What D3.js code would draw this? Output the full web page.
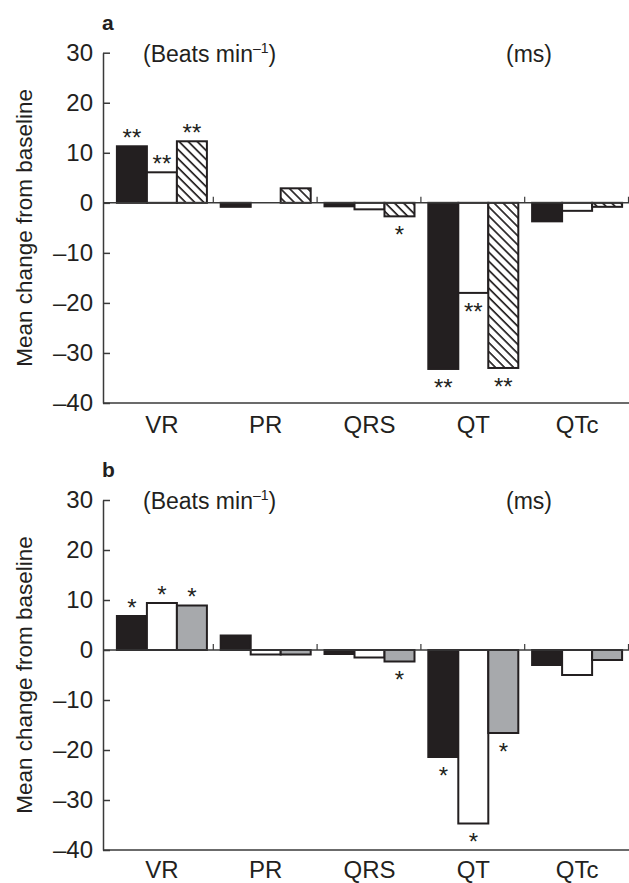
<!DOCTYPE html>
<html>
<head>
<meta charset="utf-8">
<script src="https://cdn.jsdelivr.net/npm/d3@7"></script>
<style>
  body { margin: 0; background: #fff; }
  svg { display: block; font-family: "Liberation Sans", Arial, Helvetica, sans-serif; }
</style>
</head>
<body>
<div id="chart"></div>
<script>
const categories = ['VR', 'PR', 'QRS', 'QT', 'QTc'];
const yTicks = [30, 20, 10, 0, -10, -20, -30, -40];

// panel a
const aBlack = [11.3, -0.8, -0.7, -33.2, -3.7];
const aWhite = [6.1, 0, -1.3, -18.0, -1.6];
const aHatched = [12.3, 2.9, -2.7, -33.0, -0.8];
const aBlackStars = ['**', '', '', '**', ''];
const aWhiteStars = ['**', '', '', '**', ''];
const aHatchedStars = ['**', '', '*', '**', ''];

// panel b
const bBlack = [6.8, 2.9, -0.8, -21.4, -3.0];
const bWhite = [9.4, -0.9, -1.5, -34.7, -5.0];
const bGray = [8.9, -0.9, -2.3, -16.6, -2.0];
const bBlackStars = ['*', '', '', '*', ''];
const bWhiteStars = ['*', '', '', '*', ''];
const bGrayStars = ['*', '', '*', '*', ''];

const W = 629, H = 883;
const ink = '#231f20';
const axisColor = '#3a3a3a';

const svg = d3.select('#chart').append('svg')
  .attr('width', W)
  .attr('height', H);

// hatch pattern
svg.append('defs').append('pattern')
  .attr('id', 'hatch')
  .attr('patternUnits', 'userSpaceOnUse')
  .attr('width', 6.4)
  .attr('height', 6.4)
  .attr('patternTransform', 'rotate(-45)')
  .call(p => {
    p.append('rect').attr('width', 6.4).attr('height', 6.4).attr('fill', '#fff');
    p.append('line')
      .attr('x1', 1).attr('x2', 1).attr('y1', 0).attr('y2', 6.4)
      .attr('stroke', ink).attr('stroke-width', 1.7);
  });

const x0 = d3.scaleBand().domain(categories).range([110, 629]);
const x1 = d3.scaleBand().domain([0, 1, 2]).range([-45, 45]);
const axisX = 103;

const fmt = d => d < 0 ? '\u2013' + Math.abs(d) : String(d);

function drawPanel(cfg) {
  const y = d3.scaleLinear().domain([-40, 30]).range([cfg.bottom, cfg.top]);
  const g = svg.append('g');

  // bars
  cfg.series.forEach((s, si) => {
    const rows = categories.map((c, i) => ({ c, v: s.values[i], star: s.stars[i] }));
    g.selectAll(null)
      .data(rows.filter(d => d.v !== 0))
      .enter().append('rect')
      .attr('x', d => x0(d.c) + x0.bandwidth() / 2 + x1(si))
      .attr('width', x1.bandwidth())
      .attr('y', d => y(Math.max(0, d.v)))
      .attr('height', d => Math.abs(y(d.v) - y(0)))
      .attr('fill', s.fill)
      .attr('stroke', ink)
      .attr('stroke-width', 2);

    // significance marks, glyph centred ~14px beyond the bar end
    g.selectAll(null)
      .data(rows.filter(d => d.star))
      .enter().append('text')
      .attr('x', d => x0(d.c) + x0.bandwidth() / 2 + x1(si) + x1.bandwidth() / 2)
      .attr('y', d => (d.v >= 0 ? y(d.v) - 14 : y(d.v) + 13) + 13.7)
      .attr('text-anchor', 'middle')
      .attr('font-size', 24)
      .attr('fill', ink)
      .text(d => d.star);
  });

  // zero line with category separators
  g.append('line')
    .attr('x1', axisX).attr('x2', W)
    .attr('y1', y(0)).attr('y2', y(0))
    .attr('stroke', axisColor).attr('stroke-width', 1.5);
  g.selectAll(null)
    .data(categories)
    .enter().append('line')
    .attr('x1', d => x0(d) + x0.bandwidth() - 0.5)
    .attr('x2', d => x0(d) + x0.bandwidth() - 0.5)
    .attr('y1', y(0)).attr('y2', y(0) - 6)
    .attr('stroke', axisColor).attr('stroke-width', 1.2);

  // y axis
  const ya = g.append('g')
    .attr('transform', `translate(${axisX},0)`)
    .call(d3.axisLeft(y).tickValues(yTicks).tickFormat(fmt)
      .tickSizeInner(-7).tickSizeOuter(0).tickPadding(10));
  ya.select('.domain').attr('stroke', axisColor).attr('stroke-width', 1.5);
  ya.selectAll('.tick line').attr('stroke', axisColor).attr('stroke-width', 1.5);
  ya.selectAll('.tick text')
    .attr('font-size', 24)
    .attr('font-family', '"Liberation Sans", Arial, sans-serif')
    .attr('fill', ink);

  // x axis
  g.append('line')
    .attr('x1', axisX).attr('x2', W)
    .attr('y1', y(-40)).attr('y2', y(-40))
    .attr('stroke', axisColor).attr('stroke-width', 1.5);
  const xa = g.append('g')
    .attr('transform', `translate(0,${y(-40)})`)
    .call(d3.axisBottom(x0).tickSize(0).tickPadding(cfg.labelPad));
  xa.select('.domain').remove();
  xa.selectAll('.tick text')
    .attr('font-size', 24)
    .attr('font-family', '"Liberation Sans", Arial, sans-serif')
    .attr('fill', ink);

  // y label
  g.append('text')
    .attr('transform', `translate(32,${(cfg.top + cfg.bottom) / 2}) rotate(-90)`)
    .attr('text-anchor', 'middle')
    .attr('font-size', 22.5)
    .attr('fill', ink)
    .text('Mean change from baseline');

  // panel letter
  g.append('text')
    .attr('x', 102).attr('y', cfg.top - 23)
    .attr('font-size', 21).attr('font-weight', 'bold')
    .attr('fill', ink)
    .text(cfg.letter);

  // unit labels
  const u = g.append('text')
    .attr('x', 143).attr('y', cfg.top + 9)
    .attr('font-size', 23).attr('fill', ink);
  u.append('tspan').text('(Beats min');
  u.append('tspan').attr('font-size', 14).attr('dy', -9).text('\u20131');
  u.append('tspan').attr('dy', 9).text(')');

  g.append('text')
    .attr('x', 506).attr('y', cfg.top + 9)
    .attr('font-size', 23).attr('fill', ink)
    .text('(ms)');
}

drawPanel({
  letter: 'a', top: 52.7, bottom: 403, labelPad: 13,
  series: [
    { values: aBlack, stars: aBlackStars, fill: ink },
    { values: aWhite, stars: aWhiteStars, fill: '#fff' },
    { values: aHatched, stars: aHatchedStars, fill: 'url(#hatch)' }
  ]
});

drawPanel({
  letter: 'b', top: 500, bottom: 850, labelPad: 10.5,
  series: [
    { values: bBlack, stars: bBlackStars, fill: ink },
    { values: bWhite, stars: bWhiteStars, fill: '#fff' },
    { values: bGray, stars: bGrayStars, fill: '#a7a9ac' }
  ]
});
</script>
</body>
</html>
